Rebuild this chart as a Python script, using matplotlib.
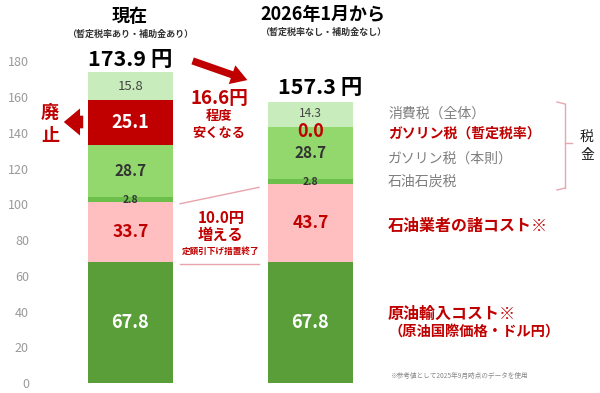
import numpy as np
import matplotlib
matplotlib.use("Agg")
import matplotlib.pyplot as plt

plt.rcParams['font.family'] = ['Noto Sans CJK JP', 'DejaVu Sans']

# data (bottom -> top)
periods = ["現在", "2026年1月から"]
segments = ["原油輸入コスト", "石油業者の諸コスト", "石油石炭税", "ガソリン税（本則）",
            "ガソリン税（暫定税率）", "消費税（全体）"]
now_vals = [67.8, 33.7, 2.8, 28.7, 25.1, 15.8]
after_vals = [67.8, 43.7, 2.8, 28.7, 0.0, 14.3]
totals = [173.9, 157.3]
yticks = [0, 20, 40, 60, 80, 100, 120, 140, 160, 180]

colors = ["#5a9e3a", "#ffbfc0", "#6cbf4a", "#92d86c", "#c00000", "#c8ecbb"]
RED = "#c00000"

W, H = 600, 393
fig = plt.figure(figsize=(W / 100, H / 100), dpi=100)
ax = fig.add_axes([40 / W, 0, 555 / W, 1])

# pixel <-> data helpers
YSC = 1.787
def py2d(py):
    return (383 - py) / YSC
def px2d(px):
    return (px - 130.5) / 180.0
def fpx(px, py):
    return (px / W, 1 - py / H)

x = np.arange(len(periods))
width = 85 / 180.0
data = np.array([now_vals, after_vals])
bottoms = np.zeros(2)
for i in range(len(segments)):
    ax.bar(x, data[:, i], width=width, bottom=bottoms, color=colors[i], linewidth=0)
    bottoms += data[:, i]

# segment labels
lab_style = [
    dict(color="white", fontsize=13, fontweight="bold"),
    dict(color=RED, fontsize=12.5, fontweight="bold"),
    dict(color="#333333", fontsize=7.5, fontweight="bold"),
    dict(color="#333333", fontsize=11, fontweight="bold"),
    dict(color="white", fontsize=13, fontweight="bold"),
    dict(color="#444444", fontsize=9.5),
]
for b in range(2):
    base = 0
    for i, v in enumerate(data[b]):
        yc = base + v / 2
        st = dict(lab_style[i])
        if i == 2:
            yc = base + v / 2 - 0.6
        if i == 4 and v == 0:
            st = dict(color=RED, fontsize=13, fontweight="bold")
            yc = base - 2.5
        if i == 5 and data[b][4] == 0:
            st["fontsize"] = 8.5
            yc = base + v / 2 + 0.5
        ax.text(x[b], yc, f"{v:.1f}", ha="center", va="center", **st)
        base += v

# totals
ax.text(x[0], py2d(59), f"{totals[0]:.1f} 円", ha="center", va="center",
        fontsize=15.5, fontweight="bold", color="black")
ax.text(x[1] + px2d(320) - px2d(310.5), py2d(88), f"{totals[1]:.1f} 円", ha="center",
        va="center", fontsize=15.5, fontweight="bold", color="black")

ax.set_xlim(px2d(40), px2d(595))
ax.set_ylim(py2d(393), py2d(0))
ax.set_yticks(yticks)
ax.set_xticks([])
ax.tick_params(axis="y", length=0, pad=8, labelsize=9, labelcolor="#9a9a9a")
for s in ax.spines.values():
    s.set_visible(False)

# headers
fig.text(*fpx(130, 17), periods[0], ha="center", va="center", fontsize=13, fontweight="bold")
fig.text(*fpx(130, 34), "（暫定税率あり・補助金あり）", ha="center", va="center",
         fontsize=6.5, fontweight="bold", color="#333333")
fig.text(*fpx(323, 15), periods[1], ha="center", va="center", fontsize=13, fontweight="bold")
fig.text(*fpx(323, 32), "（暫定税率なし・補助金なし）", ha="center", va="center",
         fontsize=6.5, fontweight="bold", color="#333333")

# big arrow between totals
fig.patches.append(matplotlib.patches.FancyArrowPatch(
    fpx(190, 60), fpx(250, 81), transform=fig.transFigure,
    arrowstyle="simple,head_width=1.1,head_length=0.9,tail_width=0.4",
    mutation_scale=13, color=RED, linewidth=0))

# 廃止 arrow
fig.patches.append(matplotlib.patches.FancyArrowPatch(
    fpx(86, 122), fpx(61, 122), transform=fig.transFigure,
    arrowstyle="simple,head_width=1.5,head_length=0.9,tail_width=0.7",
    mutation_scale=13, color=RED, linewidth=0))
fig.text(*fpx(50, 112), "廃", ha="center", va="center", fontsize=13, fontweight="bold", color=RED)
fig.text(*fpx(50, 136), "止", ha="center", va="center", fontsize=13, fontweight="bold", color=RED)

# 16.6円 text
fig.text(*fpx(219, 98), "16.6円", ha="center", va="center", fontsize=13.5, fontweight="bold", color=RED)
fig.text(*fpx(219, 116), "程度", ha="center", va="center", fontsize=9.5, fontweight="bold", color=RED)
fig.text(*fpx(219, 133), "安くなる", ha="center", va="center", fontsize=9.5, fontweight="bold", color=RED)

# lines linking the pink segments
top_now = now_vals[0] + now_vals[1]
top_after = after_vals[0] + after_vals[1]
lc = "#e8a4ad"
ax.plot([px2d(180), px2d(259)], [top_now - 1.2, top_after - 2], color=lc, lw=1)
ax.plot([px2d(180), px2d(259)], [now_vals[0] - 1, after_vals[0] - 1], color=lc, lw=1)
fig.text(*fpx(221, 218), "10.0円", ha="center", va="center", fontsize=11, fontweight="bold", color=RED)
fig.text(*fpx(221, 235), "増える", ha="center", va="center", fontsize=11, fontweight="bold", color=RED)
fig.text(*fpx(221, 251), "定額引下げ措置終了", ha="center", va="center", fontsize=6.2, fontweight="bold", color=RED)

# legend-like labels on the right
gray = "#7f7f7f"
fig.text(*fpx(388, 114), segments[5], ha="left", va="center", fontsize=10, color=gray)
fig.text(*fpx(388, 134), segments[4], ha="left", va="center", fontsize=10, fontweight="bold", color=RED)
fig.text(*fpx(388, 159), segments[3], ha="left", va="center", fontsize=10, color=gray)
fig.text(*fpx(388, 182), segments[2], ha="left", va="center", fontsize=10, color=gray)

# bracket
bc = "#e6a8b0"
bx0, bx1, bx2 = 557, 565, 572
for seg in [([bx0, bx1], [102, 104]), ([bx1, bx1], [104, 188]), ([bx0, bx1], [190, 188]),
            ([bx1, bx2], [143, 143])]:
    xs = [p / W for p in seg[0]]
    ys = [1 - p / H for p in seg[1]]
    fig.add_artist(plt.Line2D(xs, ys, color=bc, lw=1))
fig.text(*fpx(587, 138), "税", ha="center", va="center", fontsize=10, color="#222222")
fig.text(*fpx(587, 155), "金", ha="center", va="center", fontsize=10, color="#222222")

fig.text(*fpx(388, 226), segments[1] + "※", ha="left", va="center", fontsize=11.5, fontweight="bold", color=RED)
fig.text(*fpx(388, 314), segments[0] + "※", ha="left", va="center", fontsize=11.5, fontweight="bold", color=RED)
fig.text(*fpx(389, 333), "（原油国際価格・ドル円）", ha="left", va="center", fontsize=10.3, fontweight="bold", color=RED)
fig.text(*fpx(390, 376), "※参考値として2025年9月時点のデータを使用", ha="left", va="center",
         fontsize=4.8, color="#888888")

fig.savefig("out.png", dpi=100)
